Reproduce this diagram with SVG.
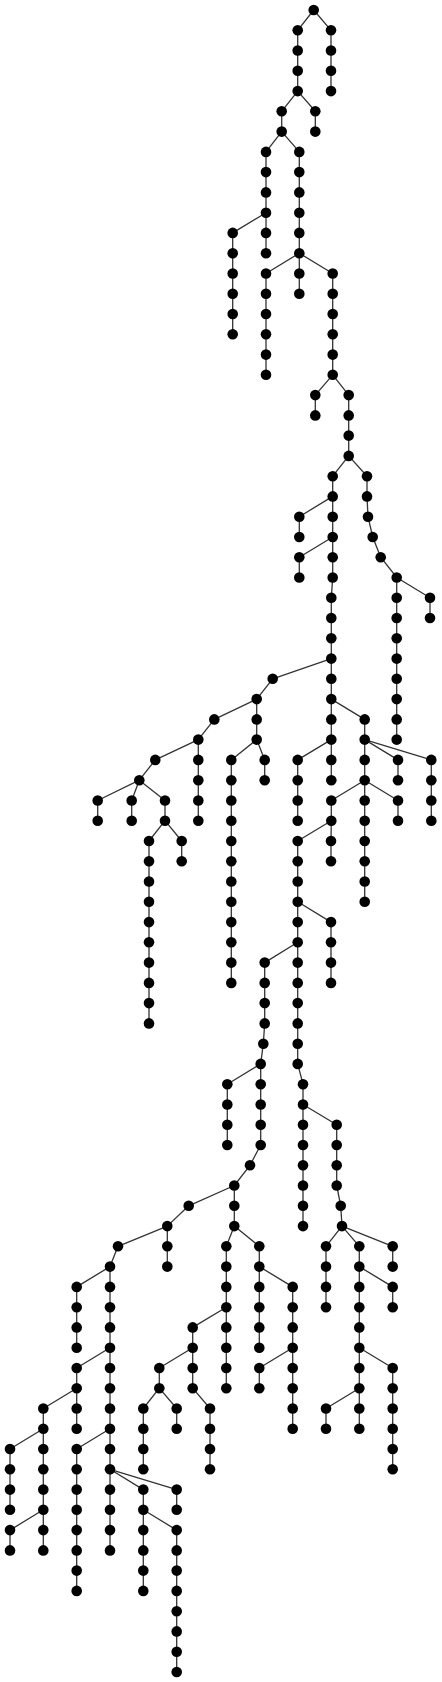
<svg xmlns="http://www.w3.org/2000/svg" width="442" height="1682" viewBox="0 0 442 1682">
<style>
.e{fill:none;stroke:#333;stroke-width:1.3;stroke-linejoin:round}
.n circle{fill:#000}
</style>
<rect width="442" height="1682" fill="#fff"/>
<g id="connectors">
<polyline class="e" points="313.7,10 297.7,30.3 297.7,50.5 297.7,70.8 297.7,91.1 281.7,111.3 281.7,131.6 266,151.9 266,172.1 266,192.4 266,212.7 232.7,232.9 232.7,253.2 232.7,273.5 232.7,293.8 232.7,314 232.7,334.3"/>
<polyline class="e" points="313.7,10 331,30.3 331,50.5 331,70.8 331,91.1"/>
<polyline class="e" points="297.7,91.1 315.3,111.3 315.3,131.6"/>
<polyline class="e" points="266,212.7 266,232.9 266,253.2"/>
<polyline class="e" points="281.7,131.6 299.3,151.9 299.3,172.1 299.3,192.4 299.3,212.7 299.3,232.9 299.3,253.2 266,273.5 266,293.8 266,314 266,334.3 266,354.6 266,374.8"/>
<polyline class="e" points="299.3,253.2 299.3,273.5 299.3,293.8"/>
<polyline class="e" points="299.3,253.2 332.7,273.5 332.7,293.8 332.7,314 332.7,334.3 332.7,354.6 332.7,374.8 315.3,395.1 315.3,415.4"/>
<polyline class="e" points="332.7,374.8 348.7,395.1 348.7,415.4 348.7,435.6 348.7,455.9 332.7,476.2 332.7,496.4 299.3,516.7 299.3,537"/>
<polyline class="e" points="332.7,496.4 332.7,516.7 332.7,537 299.3,557.2 299.3,577.5"/>
<polyline class="e" points="332.7,537 332.7,557.2 332.7,577.5 331.3,597.8 331.3,618 331.3,638.3 331.3,658.6 272.7,678.8 256.7,699.1 214.3,719.4 198.3,739.6 155.3,759.9 139.3,780.2 97.7,800.5 97.7,820.7"/>
<polyline class="e" points="139.3,780.2 131.7,800.5 131.7,820.7"/>
<polyline class="e" points="139.3,780.2 165,800.5 165,820.7 149,841 149,861.3 149,881.5 149,901.8 149,922.1 149,942.3 149,962.6 149,982.9 149,1003.1 149,1023.4"/>
<polyline class="e" points="165,820.7 181.7,841 181.7,861.3"/>
<polyline class="e" points="198.3,739.6 198.3,759.9 198.3,780.2 198.3,800.5 198.3,820.7"/>
<polyline class="e" points="256.7,699.1 256.7,719.4 256.7,739.6 231.3,759.9 231.3,780.2 231.3,800.5 231.3,820.7 231.3,841 231.3,861.3 231.3,881.5 231.3,901.8 231.3,922.1 231.3,942.3 231.3,962.6 231.3,982.9"/>
<polyline class="e" points="256.7,739.6 264.7,759.9 264.7,780.2"/>
<polyline class="e" points="348.7,455.9 367,476.2 367,496.4 368,516.7 372.7,537 380.7,557.2 396.7,577.5 430,597.8 430,618"/>
<polyline class="e" points="396.7,577.5 396.7,597.8 396.7,618 396.7,638.3 396.7,658.6 396.7,678.8 396.7,699.1 396.7,719.4 396.7,739.6"/>
<polyline class="e" points="331.3,658.6 331.3,678.8 331.3,699.1 331.3,719.4 331.3,739.6 297.7,759.9 297.7,780.2 297.7,800.5 297.7,820.7"/>
<polyline class="e" points="331.3,739.6 331.3,759.9 331.3,780.2"/>
<polyline class="e" points="331.3,699.1 364.7,719.4 364.7,739.6 364.7,759.9 364.7,780.2 331.3,800.5 331.3,820.7 297.7,841 297.7,861.3 297.7,881.5 297.7,901.8 297.7,922.1 297.7,942.3 264.7,962.6 264.7,982.9 264.7,1003.1 264.7,1023.4 263.3,1043.7 260.7,1063.9 227.3,1084.2 227.3,1104.5 227.3,1124.7 227.3,1145"/>
<polyline class="e" points="364.7,739.6 398,759.9 398,780.2"/>
<polyline class="e" points="364.7,739.6 431.3,759.9 431.3,780.2 431.3,800.5 431.3,820.7"/>
<polyline class="e" points="364.7,780.2 364.7,800.5 364.7,820.7 364.7,841 364.7,861.3 364.7,881.5 364.7,901.8"/>
<polyline class="e" points="364.7,780.2 398,800.5 398,820.7"/>
<polyline class="e" points="331.3,820.7 331,841 331,861.3"/>
<polyline class="e" points="297.7,901.8 331,922.1 331,942.3 331,962.6 331,982.9"/>
<polyline class="e" points="297.7,942.3 297.7,962.6 297.7,982.9 297.7,1003.1 297.7,1023.4 297.7,1043.7 297.7,1063.9 303,1084.2 303,1104.5 303,1124.7 303,1145 303,1165.3 303,1185.5 303,1205.8 303,1226.1"/>
<polyline class="e" points="260.7,1063.9 260.7,1084.2 260.7,1104.5 260.7,1124.7 260.7,1145 250,1165.3 234.3,1185.5 188.7,1205.8 167.3,1226.1 118,1246.3 110,1266.6 76.7,1286.9 76.7,1307.2 76.7,1327.4 76.7,1347.7"/>
<polyline class="e" points="167.3,1226.1 167.3,1246.3 167.3,1266.6"/>
<polyline class="e" points="110,1266.6 110,1286.9 110,1307.2 110,1327.4 110,1347.7 76.7,1368 76.7,1388.2 43.3,1408.5 43.3,1428.8 10,1449 10,1469.3 10,1489.6 10,1509.8"/>
<polyline class="e" points="76.7,1388.2 76.7,1408.5 76.7,1428.8"/>
<polyline class="e" points="43.3,1428.8 43.3,1449 43.3,1469.3 43.3,1489.6 43.3,1509.8 10,1530.1 10,1550.4"/>
<polyline class="e" points="43.3,1509.8 43.3,1530.1 43.3,1550.4"/>
<polyline class="e" points="110,1347.7 110,1368 110,1388.2 110,1408.5 110,1428.8 76.7,1449 76.7,1469.3 76.7,1489.6 76.7,1509.8 76.7,1530.1 76.7,1550.4 76.7,1570.6 76.7,1590.9"/>
<polyline class="e" points="110,1428.8 110,1449 110,1469.3 110,1489.6 110,1509.8 110,1530.1 110,1550.4"/>
<polyline class="e" points="110,1469.3 143.3,1489.6 143.3,1509.8 143.3,1530.1 143.3,1550.4 143.3,1570.6 143.3,1590.9"/>
<polyline class="e" points="110,1469.3 176.7,1489.6 176.7,1509.8"/>
<polyline class="e" points="143.3,1509.8 176.7,1530.1 176.7,1550.4 176.7,1570.6 176.7,1590.9 176.7,1611.2 176.7,1631.4 176.7,1651.7 176.7,1672"/>
<polyline class="e" points="234.3,1185.5 234.3,1205.8 234.3,1226.1 226.3,1246.3 226.3,1266.6 226.3,1286.9 226.3,1307.2 192.7,1327.4 192.7,1347.7 159.3,1368 159.3,1388.2 143.3,1408.5 143.3,1428.8 143.3,1449 143.3,1469.3"/>
<polyline class="e" points="159.3,1388.2 176.7,1408.5 176.7,1428.8"/>
<polyline class="e" points="192.7,1347.7 192.7,1368 192.7,1388.2 210,1408.5 210,1428.8 210,1449 210,1469.3"/>
<polyline class="e" points="226.3,1307.2 226.3,1327.4 226.3,1347.7 226.3,1368 226.3,1388.2"/>
<polyline class="e" points="234.3,1226.1 259.3,1246.3 259.3,1266.6 259.3,1286.9 259.3,1307.2 259.3,1327.4 259.3,1347.7"/>
<polyline class="e" points="259.3,1266.6 292.7,1286.9 292.7,1307.2 292.7,1327.4 292.7,1347.7 259.3,1368 259.3,1388.2"/>
<polyline class="e" points="292.7,1347.7 292.7,1368 292.7,1388.2 292.7,1408.5 292.7,1428.8"/>
<polyline class="e" points="303,1104.5 336.7,1124.7 336.7,1145 336.7,1165.3 336.7,1185.5 340.7,1205.8 342,1226.1 326,1246.3 326,1266.6 326,1286.9 326,1307.2"/>
<polyline class="e" points="342,1226.1 392.7,1246.3 392.7,1266.6"/>
<polyline class="e" points="342,1226.1 359.3,1246.3 359.3,1266.6 392.7,1286.9 392.7,1307.2"/>
<polyline class="e" points="359.3,1266.6 359.3,1286.9 359.3,1307.2 359.3,1327.4 359.3,1347.7 392.7,1368 392.7,1388.2 392.7,1408.5 392.7,1428.8 392.7,1449 392.7,1469.3"/>
<polyline class="e" points="359.3,1347.7 359.3,1368 359.3,1388.2 326,1408.5 326,1428.8"/>
<polyline class="e" points="359.3,1388.2 359.3,1408.5 359.3,1428.8"/>
</g>
<g class="n">
<g id="n0"><circle r="5.3" cx="313.7" cy="10"/></g>
<g id="n1"><circle r="5.3" cx="297.7" cy="30.3"/></g>
<g id="n2"><circle r="5.3" cx="331" cy="30.3"/></g>
<g id="n3"><circle r="5.3" cx="297.7" cy="50.5"/></g>
<g id="n4"><circle r="5.3" cx="297.7" cy="70.8"/></g>
<g id="n5"><circle r="5.3" cx="297.7" cy="91.1"/></g>
<g id="n6"><circle r="5.3" cx="331" cy="50.5"/></g>
<g id="n7"><circle r="5.3" cx="331" cy="70.8"/></g>
<g id="n8"><circle r="5.3" cx="331" cy="91.1"/></g>
<g id="n9"><circle r="5.3" cx="281.7" cy="111.3"/></g>
<g id="n10"><circle r="5.3" cx="315.3" cy="111.3"/></g>
<g id="n11"><circle r="5.3" cx="281.7" cy="131.6"/></g>
<g id="n12"><circle r="5.3" cx="315.3" cy="131.6"/></g>
<g id="n13"><circle r="5.3" cx="266" cy="151.9"/></g>
<g id="n14"><circle r="5.3" cx="299.3" cy="151.9"/></g>
<g id="n15"><circle r="5.3" cx="266" cy="172.1"/></g>
<g id="n16"><circle r="5.3" cx="266" cy="192.4"/></g>
<g id="n17"><circle r="5.3" cx="266" cy="212.7"/></g>
<g id="n18"><circle r="5.3" cx="232.7" cy="232.9"/></g>
<g id="n19"><circle r="5.3" cx="266" cy="232.9"/></g>
<g id="n20"><circle r="5.3" cx="266" cy="253.2"/></g>
<g id="n21"><circle r="5.3" cx="232.7" cy="253.2"/></g>
<g id="n22"><circle r="5.3" cx="232.7" cy="273.5"/></g>
<g id="n23"><circle r="5.3" cx="232.7" cy="293.8"/></g>
<g id="n24"><circle r="5.3" cx="232.7" cy="314"/></g>
<g id="n25"><circle r="5.3" cx="232.7" cy="334.3"/></g>
<g id="n26"><circle r="5.3" cx="299.3" cy="172.1"/></g>
<g id="n27"><circle r="5.3" cx="299.3" cy="192.4"/></g>
<g id="n28"><circle r="5.3" cx="299.3" cy="212.7"/></g>
<g id="n29"><circle r="5.3" cx="299.3" cy="232.9"/></g>
<g id="n30"><circle r="5.3" cx="299.3" cy="253.2"/></g>
<g id="n31"><circle r="5.3" cx="266" cy="273.5"/></g>
<g id="n32"><circle r="5.3" cx="299.3" cy="273.5"/></g>
<g id="n33"><circle r="5.3" cx="332.7" cy="273.5"/></g>
<g id="n34"><circle r="5.3" cx="266" cy="293.8"/></g>
<g id="n35"><circle r="5.3" cx="266" cy="314"/></g>
<g id="n36"><circle r="5.3" cx="266" cy="334.3"/></g>
<g id="n37"><circle r="5.3" cx="266" cy="354.6"/></g>
<g id="n38"><circle r="5.3" cx="266" cy="374.8"/></g>
<g id="n39"><circle r="5.3" cx="299.3" cy="293.8"/></g>
<g id="n40"><circle r="5.3" cx="332.7" cy="293.8"/></g>
<g id="n41"><circle r="5.3" cx="332.7" cy="314"/></g>
<g id="n42"><circle r="5.3" cx="332.7" cy="334.3"/></g>
<g id="n43"><circle r="5.3" cx="332.7" cy="354.6"/></g>
<g id="n44"><circle r="5.3" cx="332.7" cy="374.8"/></g>
<g id="n45"><circle r="5.3" cx="315.3" cy="395.1"/></g>
<g id="n46"><circle r="5.3" cx="315.3" cy="415.4"/></g>
<g id="n47"><circle r="5.3" cx="348.7" cy="395.1"/></g>
<g id="n48"><circle r="5.3" cx="348.7" cy="415.4"/></g>
<g id="n49"><circle r="5.3" cx="348.7" cy="435.6"/></g>
<g id="n50"><circle r="5.3" cx="348.7" cy="455.9"/></g>
<g id="n51"><circle r="5.3" cx="332.7" cy="476.2"/></g>
<g id="n52"><circle r="5.3" cx="367" cy="476.2"/></g>
<g id="n53"><circle r="5.3" cx="332.7" cy="496.4"/></g>
<g id="n54"><circle r="5.3" cx="299.3" cy="516.7"/></g>
<g id="n55"><circle r="5.3" cx="299.3" cy="537"/></g>
<g id="n56"><circle r="5.3" cx="332.7" cy="516.7"/></g>
<g id="n57"><circle r="5.3" cx="332.7" cy="537"/></g>
<g id="n58"><circle r="5.3" cx="299.3" cy="557.2"/></g>
<g id="n59"><circle r="5.3" cx="299.3" cy="577.5"/></g>
<g id="n60"><circle r="5.3" cx="332.7" cy="557.2"/></g>
<g id="n61"><circle r="5.3" cx="332.7" cy="577.5"/></g>
<g id="n62"><circle r="5.3" cx="331.3" cy="597.8"/></g>
<g id="n63"><circle r="5.3" cx="331.3" cy="618"/></g>
<g id="n64"><circle r="5.3" cx="331.3" cy="638.3"/></g>
<g id="n65"><circle r="5.3" cx="331.3" cy="658.6"/></g>
<g id="n66"><circle r="5.3" cx="272.7" cy="678.8"/></g>
<g id="n67"><circle r="5.3" cx="256.7" cy="699.1"/></g>
<g id="n68"><circle r="5.3" cx="331.3" cy="678.8"/></g>
<g id="n69"><circle r="5.3" cx="331.3" cy="699.1"/></g>
<g id="n70"><circle r="5.3" cx="367" cy="496.4"/></g>
<g id="n71"><circle r="5.3" cx="368" cy="516.7"/></g>
<g id="n72"><circle r="5.3" cx="372.7" cy="537"/></g>
<g id="n73"><circle r="5.3" cx="380.7" cy="557.2"/></g>
<g id="n74"><circle r="5.3" cx="396.7" cy="577.5"/></g>
<g id="n75"><circle r="5.3" cx="430" cy="597.8"/></g>
<g id="n76"><circle r="5.3" cx="430" cy="618"/></g>
<g id="n77"><circle r="5.3" cx="396.7" cy="597.8"/></g>
<g id="n78"><circle r="5.3" cx="396.7" cy="618"/></g>
<g id="n79"><circle r="5.3" cx="396.7" cy="638.3"/></g>
<g id="n80"><circle r="5.3" cx="396.7" cy="658.6"/></g>
<g id="n81"><circle r="5.3" cx="396.7" cy="678.8"/></g>
<g id="n82"><circle r="5.3" cx="396.7" cy="699.1"/></g>
<g id="n83"><circle r="5.3" cx="396.7" cy="719.4"/></g>
<g id="n84"><circle r="5.3" cx="396.7" cy="739.6"/></g>
<g id="n85"><circle r="5.3" cx="214.3" cy="719.4"/></g>
<g id="n86"><circle r="5.3" cx="198.3" cy="739.6"/></g>
<g id="n87"><circle r="5.3" cx="256.7" cy="719.4"/></g>
<g id="n88"><circle r="5.3" cx="256.7" cy="739.6"/></g>
<g id="n89"><circle r="5.3" cx="331.3" cy="719.4"/></g>
<g id="n90"><circle r="5.3" cx="331.3" cy="739.6"/></g>
<g id="n91"><circle r="5.3" cx="364.7" cy="719.4"/></g>
<g id="n92"><circle r="5.3" cx="364.7" cy="739.6"/></g>
<g id="n93"><circle r="5.3" cx="155.3" cy="759.9"/></g>
<g id="n94"><circle r="5.3" cx="139.3" cy="780.2"/></g>
<g id="n95"><circle r="5.3" cx="198.3" cy="759.9"/></g>
<g id="n96"><circle r="5.3" cx="198.3" cy="780.2"/></g>
<g id="n97"><circle r="5.3" cx="198.3" cy="800.5"/></g>
<g id="n98"><circle r="5.3" cx="198.3" cy="820.7"/></g>
<g id="n99"><circle r="5.3" cx="97.7" cy="800.5"/></g>
<g id="n100"><circle r="5.3" cx="97.7" cy="820.7"/></g>
<g id="n101"><circle r="5.3" cx="131.7" cy="800.5"/></g>
<g id="n102"><circle r="5.3" cx="131.7" cy="820.7"/></g>
<g id="n103"><circle r="5.3" cx="165" cy="800.5"/></g>
<g id="n104"><circle r="5.3" cx="165" cy="820.7"/></g>
<g id="n105"><circle r="5.3" cx="149" cy="841"/></g>
<g id="n106"><circle r="5.3" cx="149" cy="861.3"/></g>
<g id="n107"><circle r="5.3" cx="149" cy="881.5"/></g>
<g id="n108"><circle r="5.3" cx="149" cy="901.8"/></g>
<g id="n109"><circle r="5.3" cx="149" cy="922.1"/></g>
<g id="n110"><circle r="5.3" cx="149" cy="942.3"/></g>
<g id="n111"><circle r="5.3" cx="149" cy="962.6"/></g>
<g id="n112"><circle r="5.3" cx="149" cy="982.9"/></g>
<g id="n113"><circle r="5.3" cx="149" cy="1003.1"/></g>
<g id="n114"><circle r="5.3" cx="149" cy="1023.4"/></g>
<g id="n115"><circle r="5.3" cx="181.7" cy="841"/></g>
<g id="n116"><circle r="5.3" cx="181.7" cy="861.3"/></g>
<g id="n117"><circle r="5.3" cx="231.3" cy="759.9"/></g>
<g id="n118"><circle r="5.3" cx="231.3" cy="780.2"/></g>
<g id="n119"><circle r="5.3" cx="231.3" cy="800.5"/></g>
<g id="n120"><circle r="5.3" cx="231.3" cy="820.7"/></g>
<g id="n121"><circle r="5.3" cx="231.3" cy="841"/></g>
<g id="n122"><circle r="5.3" cx="231.3" cy="861.3"/></g>
<g id="n123"><circle r="5.3" cx="231.3" cy="881.5"/></g>
<g id="n124"><circle r="5.3" cx="231.3" cy="901.8"/></g>
<g id="n125"><circle r="5.3" cx="231.3" cy="922.1"/></g>
<g id="n126"><circle r="5.3" cx="231.3" cy="942.3"/></g>
<g id="n127"><circle r="5.3" cx="231.3" cy="962.6"/></g>
<g id="n128"><circle r="5.3" cx="231.3" cy="982.9"/></g>
<g id="n129"><circle r="5.3" cx="264.7" cy="759.9"/></g>
<g id="n130"><circle r="5.3" cx="264.7" cy="780.2"/></g>
<g id="n131"><circle r="5.3" cx="297.7" cy="759.9"/></g>
<g id="n132"><circle r="5.3" cx="297.7" cy="780.2"/></g>
<g id="n133"><circle r="5.3" cx="297.7" cy="800.5"/></g>
<g id="n134"><circle r="5.3" cx="297.7" cy="820.7"/></g>
<g id="n135"><circle r="5.3" cx="331.3" cy="759.9"/></g>
<g id="n136"><circle r="5.3" cx="331.3" cy="780.2"/></g>
<g id="n137"><circle r="5.3" cx="364.7" cy="759.9"/></g>
<g id="n138"><circle r="5.3" cx="364.7" cy="780.2"/></g>
<g id="n139"><circle r="5.3" cx="398" cy="759.9"/></g>
<g id="n140"><circle r="5.3" cx="398" cy="780.2"/></g>
<g id="n141"><circle r="5.3" cx="431.3" cy="759.9"/></g>
<g id="n142"><circle r="5.3" cx="431.3" cy="780.2"/></g>
<g id="n143"><circle r="5.3" cx="431.3" cy="800.5"/></g>
<g id="n144"><circle r="5.3" cx="431.3" cy="820.7"/></g>
<g id="n145"><circle r="5.3" cx="331.3" cy="800.5"/></g>
<g id="n146"><circle r="5.3" cx="331.3" cy="820.7"/></g>
<g id="n147"><circle r="5.3" cx="364.7" cy="800.5"/></g>
<g id="n148"><circle r="5.3" cx="364.7" cy="820.7"/></g>
<g id="n149"><circle r="5.3" cx="364.7" cy="841"/></g>
<g id="n150"><circle r="5.3" cx="364.7" cy="861.3"/></g>
<g id="n151"><circle r="5.3" cx="364.7" cy="881.5"/></g>
<g id="n152"><circle r="5.3" cx="364.7" cy="901.8"/></g>
<g id="n153"><circle r="5.3" cx="398" cy="800.5"/></g>
<g id="n154"><circle r="5.3" cx="398" cy="820.7"/></g>
<g id="n155"><circle r="5.3" cx="297.7" cy="841"/></g>
<g id="n156"><circle r="5.3" cx="297.7" cy="861.3"/></g>
<g id="n157"><circle r="5.3" cx="297.7" cy="881.5"/></g>
<g id="n158"><circle r="5.3" cx="297.7" cy="901.8"/></g>
<g id="n159"><circle r="5.3" cx="331" cy="841"/></g>
<g id="n160"><circle r="5.3" cx="331" cy="861.3"/></g>
<g id="n161"><circle r="5.3" cx="331" cy="922.1"/></g>
<g id="n162"><circle r="5.3" cx="331" cy="942.3"/></g>
<g id="n163"><circle r="5.3" cx="331" cy="962.6"/></g>
<g id="n164"><circle r="5.3" cx="331" cy="982.9"/></g>
<g id="n165"><circle r="5.3" cx="297.7" cy="922.1"/></g>
<g id="n166"><circle r="5.3" cx="297.7" cy="942.3"/></g>
<g id="n167"><circle r="5.3" cx="264.7" cy="962.6"/></g>
<g id="n168"><circle r="5.3" cx="264.7" cy="982.9"/></g>
<g id="n169"><circle r="5.3" cx="264.7" cy="1003.1"/></g>
<g id="n170"><circle r="5.3" cx="264.7" cy="1023.4"/></g>
<g id="n171"><circle r="5.3" cx="263.3" cy="1043.7"/></g>
<g id="n172"><circle r="5.3" cx="260.7" cy="1063.9"/></g>
<g id="n173"><circle r="5.3" cx="297.7" cy="962.6"/></g>
<g id="n174"><circle r="5.3" cx="297.7" cy="982.9"/></g>
<g id="n175"><circle r="5.3" cx="297.7" cy="1003.1"/></g>
<g id="n176"><circle r="5.3" cx="297.7" cy="1023.4"/></g>
<g id="n177"><circle r="5.3" cx="297.7" cy="1043.7"/></g>
<g id="n178"><circle r="5.3" cx="297.7" cy="1063.9"/></g>
<g id="n179"><circle r="5.3" cx="303" cy="1084.2"/></g>
<g id="n180"><circle r="5.3" cx="303" cy="1104.5"/></g>
<g id="n181"><circle r="5.3" cx="227.3" cy="1084.2"/></g>
<g id="n182"><circle r="5.3" cx="227.3" cy="1104.5"/></g>
<g id="n183"><circle r="5.3" cx="227.3" cy="1124.7"/></g>
<g id="n184"><circle r="5.3" cx="227.3" cy="1145"/></g>
<g id="n185"><circle r="5.3" cx="260.7" cy="1084.2"/></g>
<g id="n186"><circle r="5.3" cx="260.7" cy="1104.5"/></g>
<g id="n187"><circle r="5.3" cx="260.7" cy="1124.7"/></g>
<g id="n188"><circle r="5.3" cx="260.7" cy="1145"/></g>
<g id="n189"><circle r="5.3" cx="250" cy="1165.3"/></g>
<g id="n190"><circle r="5.3" cx="234.3" cy="1185.5"/></g>
<g id="n191"><circle r="5.3" cx="188.7" cy="1205.8"/></g>
<g id="n192"><circle r="5.3" cx="167.3" cy="1226.1"/></g>
<g id="n193"><circle r="5.3" cx="234.3" cy="1205.8"/></g>
<g id="n194"><circle r="5.3" cx="234.3" cy="1226.1"/></g>
<g id="n195"><circle r="5.3" cx="118" cy="1246.3"/></g>
<g id="n196"><circle r="5.3" cx="110" cy="1266.6"/></g>
<g id="n197"><circle r="5.3" cx="167.3" cy="1246.3"/></g>
<g id="n198"><circle r="5.3" cx="167.3" cy="1266.6"/></g>
<g id="n199"><circle r="5.3" cx="76.7" cy="1286.9"/></g>
<g id="n200"><circle r="5.3" cx="76.7" cy="1307.2"/></g>
<g id="n201"><circle r="5.3" cx="76.7" cy="1327.4"/></g>
<g id="n202"><circle r="5.3" cx="76.7" cy="1347.7"/></g>
<g id="n203"><circle r="5.3" cx="110" cy="1286.9"/></g>
<g id="n204"><circle r="5.3" cx="110" cy="1307.2"/></g>
<g id="n205"><circle r="5.3" cx="110" cy="1327.4"/></g>
<g id="n206"><circle r="5.3" cx="110" cy="1347.7"/></g>
<g id="n207"><circle r="5.3" cx="76.7" cy="1368"/></g>
<g id="n208"><circle r="5.3" cx="76.7" cy="1388.2"/></g>
<g id="n209"><circle r="5.3" cx="43.3" cy="1408.5"/></g>
<g id="n210"><circle r="5.3" cx="43.3" cy="1428.8"/></g>
<g id="n211"><circle r="5.3" cx="76.7" cy="1408.5"/></g>
<g id="n212"><circle r="5.3" cx="76.7" cy="1428.8"/></g>
<g id="n213"><circle r="5.3" cx="10" cy="1449"/></g>
<g id="n214"><circle r="5.3" cx="10" cy="1469.3"/></g>
<g id="n215"><circle r="5.3" cx="10" cy="1489.6"/></g>
<g id="n216"><circle r="5.3" cx="10" cy="1509.8"/></g>
<g id="n217"><circle r="5.3" cx="43.3" cy="1449"/></g>
<g id="n218"><circle r="5.3" cx="43.3" cy="1469.3"/></g>
<g id="n219"><circle r="5.3" cx="43.3" cy="1489.6"/></g>
<g id="n220"><circle r="5.3" cx="43.3" cy="1509.8"/></g>
<g id="n221"><circle r="5.3" cx="10" cy="1530.1"/></g>
<g id="n222"><circle r="5.3" cx="10" cy="1550.4"/></g>
<g id="n223"><circle r="5.3" cx="43.3" cy="1530.1"/></g>
<g id="n224"><circle r="5.3" cx="43.3" cy="1550.4"/></g>
<g id="n225"><circle r="5.3" cx="110" cy="1368"/></g>
<g id="n226"><circle r="5.3" cx="110" cy="1388.2"/></g>
<g id="n227"><circle r="5.3" cx="110" cy="1408.5"/></g>
<g id="n228"><circle r="5.3" cx="110" cy="1428.8"/></g>
<g id="n229"><circle r="5.3" cx="76.7" cy="1449"/></g>
<g id="n230"><circle r="5.3" cx="76.7" cy="1469.3"/></g>
<g id="n231"><circle r="5.3" cx="76.7" cy="1489.6"/></g>
<g id="n232"><circle r="5.3" cx="76.7" cy="1509.8"/></g>
<g id="n233"><circle r="5.3" cx="76.7" cy="1530.1"/></g>
<g id="n234"><circle r="5.3" cx="76.7" cy="1550.4"/></g>
<g id="n235"><circle r="5.3" cx="76.7" cy="1570.6"/></g>
<g id="n236"><circle r="5.3" cx="76.7" cy="1590.9"/></g>
<g id="n237"><circle r="5.3" cx="110" cy="1449"/></g>
<g id="n238"><circle r="5.3" cx="110" cy="1469.3"/></g>
<g id="n239"><circle r="5.3" cx="110" cy="1489.6"/></g>
<g id="n240"><circle r="5.3" cx="110" cy="1509.8"/></g>
<g id="n241"><circle r="5.3" cx="110" cy="1530.1"/></g>
<g id="n242"><circle r="5.3" cx="110" cy="1550.4"/></g>
<g id="n243"><circle r="5.3" cx="143.3" cy="1489.6"/></g>
<g id="n244"><circle r="5.3" cx="143.3" cy="1509.8"/></g>
<g id="n245"><circle r="5.3" cx="176.7" cy="1489.6"/></g>
<g id="n246"><circle r="5.3" cx="176.7" cy="1509.8"/></g>
<g id="n247"><circle r="5.3" cx="143.3" cy="1530.1"/></g>
<g id="n248"><circle r="5.3" cx="143.3" cy="1550.4"/></g>
<g id="n249"><circle r="5.3" cx="143.3" cy="1570.6"/></g>
<g id="n250"><circle r="5.3" cx="143.3" cy="1590.9"/></g>
<g id="n251"><circle r="5.3" cx="176.7" cy="1530.1"/></g>
<g id="n252"><circle r="5.3" cx="176.7" cy="1550.4"/></g>
<g id="n253"><circle r="5.3" cx="176.7" cy="1570.6"/></g>
<g id="n254"><circle r="5.3" cx="176.7" cy="1590.9"/></g>
<g id="n255"><circle r="5.3" cx="176.7" cy="1611.2"/></g>
<g id="n256"><circle r="5.3" cx="176.7" cy="1631.4"/></g>
<g id="n257"><circle r="5.3" cx="176.7" cy="1651.7"/></g>
<g id="n258"><circle r="5.3" cx="176.7" cy="1672"/></g>
<g id="n259"><circle r="5.3" cx="226.3" cy="1246.3"/></g>
<g id="n260"><circle r="5.3" cx="226.3" cy="1266.6"/></g>
<g id="n261"><circle r="5.3" cx="226.3" cy="1286.9"/></g>
<g id="n262"><circle r="5.3" cx="226.3" cy="1307.2"/></g>
<g id="n263"><circle r="5.3" cx="192.7" cy="1327.4"/></g>
<g id="n264"><circle r="5.3" cx="192.7" cy="1347.7"/></g>
<g id="n265"><circle r="5.3" cx="159.3" cy="1368"/></g>
<g id="n266"><circle r="5.3" cx="159.3" cy="1388.2"/></g>
<g id="n267"><circle r="5.3" cx="143.3" cy="1408.5"/></g>
<g id="n268"><circle r="5.3" cx="143.3" cy="1428.8"/></g>
<g id="n269"><circle r="5.3" cx="143.3" cy="1449"/></g>
<g id="n270"><circle r="5.3" cx="143.3" cy="1469.3"/></g>
<g id="n271"><circle r="5.3" cx="176.7" cy="1408.5"/></g>
<g id="n272"><circle r="5.3" cx="176.7" cy="1428.8"/></g>
<g id="n273"><circle r="5.3" cx="192.7" cy="1368"/></g>
<g id="n274"><circle r="5.3" cx="192.7" cy="1388.2"/></g>
<g id="n275"><circle r="5.3" cx="210" cy="1408.5"/></g>
<g id="n276"><circle r="5.3" cx="210" cy="1428.8"/></g>
<g id="n277"><circle r="5.3" cx="210" cy="1449"/></g>
<g id="n278"><circle r="5.3" cx="210" cy="1469.3"/></g>
<g id="n279"><circle r="5.3" cx="226.3" cy="1327.4"/></g>
<g id="n280"><circle r="5.3" cx="226.3" cy="1347.7"/></g>
<g id="n281"><circle r="5.3" cx="226.3" cy="1368"/></g>
<g id="n282"><circle r="5.3" cx="226.3" cy="1388.2"/></g>
<g id="n283"><circle r="5.3" cx="259.3" cy="1246.3"/></g>
<g id="n284"><circle r="5.3" cx="259.3" cy="1266.6"/></g>
<g id="n285"><circle r="5.3" cx="259.3" cy="1286.9"/></g>
<g id="n286"><circle r="5.3" cx="259.3" cy="1307.2"/></g>
<g id="n287"><circle r="5.3" cx="259.3" cy="1327.4"/></g>
<g id="n288"><circle r="5.3" cx="259.3" cy="1347.7"/></g>
<g id="n289"><circle r="5.3" cx="292.7" cy="1286.9"/></g>
<g id="n290"><circle r="5.3" cx="292.7" cy="1307.2"/></g>
<g id="n291"><circle r="5.3" cx="292.7" cy="1327.4"/></g>
<g id="n292"><circle r="5.3" cx="292.7" cy="1347.7"/></g>
<g id="n293"><circle r="5.3" cx="259.3" cy="1368"/></g>
<g id="n294"><circle r="5.3" cx="259.3" cy="1388.2"/></g>
<g id="n295"><circle r="5.3" cx="292.7" cy="1368"/></g>
<g id="n296"><circle r="5.3" cx="292.7" cy="1388.2"/></g>
<g id="n297"><circle r="5.3" cx="292.7" cy="1408.5"/></g>
<g id="n298"><circle r="5.3" cx="292.7" cy="1428.8"/></g>
<g id="n299"><circle r="5.3" cx="303" cy="1124.7"/></g>
<g id="n300"><circle r="5.3" cx="303" cy="1145"/></g>
<g id="n301"><circle r="5.3" cx="303" cy="1165.3"/></g>
<g id="n302"><circle r="5.3" cx="303" cy="1185.5"/></g>
<g id="n303"><circle r="5.3" cx="303" cy="1205.8"/></g>
<g id="n304"><circle r="5.3" cx="303" cy="1226.1"/></g>
<g id="n305"><circle r="5.3" cx="336.7" cy="1124.7"/></g>
<g id="n306"><circle r="5.3" cx="336.7" cy="1145"/></g>
<g id="n307"><circle r="5.3" cx="336.7" cy="1165.3"/></g>
<g id="n308"><circle r="5.3" cx="336.7" cy="1185.5"/></g>
<g id="n309"><circle r="5.3" cx="340.7" cy="1205.8"/></g>
<g id="n310"><circle r="5.3" cx="342" cy="1226.1"/></g>
<g id="n311"><circle r="5.3" cx="326" cy="1246.3"/></g>
<g id="n312"><circle r="5.3" cx="326" cy="1266.6"/></g>
<g id="n313"><circle r="5.3" cx="326" cy="1286.9"/></g>
<g id="n314"><circle r="5.3" cx="326" cy="1307.2"/></g>
<g id="n315"><circle r="5.3" cx="392.7" cy="1246.3"/></g>
<g id="n316"><circle r="5.3" cx="392.7" cy="1266.6"/></g>
<g id="n317"><circle r="5.3" cx="359.3" cy="1246.3"/></g>
<g id="n318"><circle r="5.3" cx="359.3" cy="1266.6"/></g>
<g id="n319"><circle r="5.3" cx="392.7" cy="1286.9"/></g>
<g id="n320"><circle r="5.3" cx="392.7" cy="1307.2"/></g>
<g id="n321"><circle r="5.3" cx="359.3" cy="1286.9"/></g>
<g id="n322"><circle r="5.3" cx="359.3" cy="1307.2"/></g>
<g id="n323"><circle r="5.3" cx="359.3" cy="1327.4"/></g>
<g id="n324"><circle r="5.3" cx="359.3" cy="1347.7"/></g>
<g id="n325"><circle r="5.3" cx="392.7" cy="1368"/></g>
<g id="n326"><circle r="5.3" cx="392.7" cy="1388.2"/></g>
<g id="n327"><circle r="5.3" cx="392.7" cy="1408.5"/></g>
<g id="n328"><circle r="5.3" cx="392.7" cy="1428.8"/></g>
<g id="n329"><circle r="5.3" cx="392.7" cy="1449"/></g>
<g id="n330"><circle r="5.3" cx="392.7" cy="1469.3"/></g>
<g id="n331"><circle r="5.3" cx="359.3" cy="1368"/></g>
<g id="n332"><circle r="5.3" cx="359.3" cy="1388.2"/></g>
<g id="n333"><circle r="5.3" cx="326" cy="1408.5"/></g>
<g id="n334"><circle r="5.3" cx="326" cy="1428.8"/></g>
<g id="n335"><circle r="5.3" cx="359.3" cy="1408.5"/></g>
<g id="n336"><circle r="5.3" cx="359.3" cy="1428.8"/></g>
</g>
</svg>
